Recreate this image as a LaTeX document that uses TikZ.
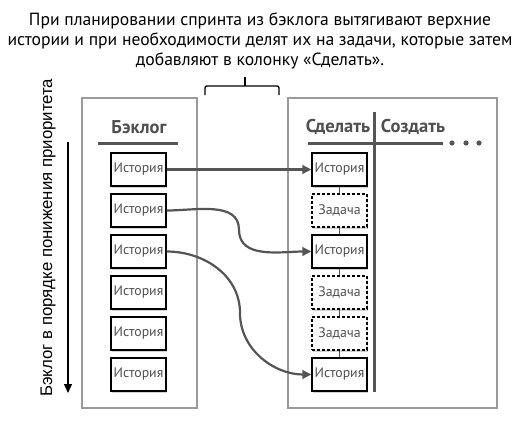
\documentclass[tikz,border=0pt]{standalone}
\usepackage{fontspec}
\setmainfont{PT Sans}
\newfontfamily\arialf{Liberation Sans}
\usetikzlibrary{shadows,arrows.meta}
\definecolor{txtgray}{HTML}{505050}
\definecolor{linegray}{HTML}{555555}
\definecolor{panelgray}{HTML}{9A9A9A}
\tikzset{
  panel/.style={draw=panelgray, line width=1.3pt},
  story/.style={draw=black, line width=1.2pt, fill=white, minimum width=55pt, minimum height=33pt,
    inner sep=0pt, text=txtgray, font=\fontsize{13.8}{15}\selectfont,
    drop shadow={shadow xshift=1pt, shadow yshift=-2pt, opacity=0.35}},
  task/.style={story, dash pattern=on 3pt off 2pt},
  bar/.style={draw=linegray, line width=3pt},
  flow/.style={draw=linegray, line width=2.2pt, -{Triangle[length=9pt,width=8.5pt]}},
  link/.style={draw=linegray, line width=0.8pt},
  heading/.style={text=txtgray, font=\bfseries\fontsize{18.5}{20}\selectfont},
}
\begin{document}
\begin{tikzpicture}[x=1pt,y=-1pt]
\useasboundingbox (0,0) rectangle (518,425);
% title
\node[anchor=north, align=center, font=\fontsize{17.6}{20}\selectfont, inner sep=0pt] (title) at (260,12.5)
  {При планировании спринта из бэклога вытягивают верхние\\
   истории и при необходимости делят их на задачи, которые затем\\
   добавляют в колонку «Сделать».};
% bracket
\coordinate (bl) at (205,95);
\coordinate (br) at (279,95);
\coordinate (bt) at (245,77);
\draw[line width=1.4pt, rounded corners=2pt] (bl) -- (205,86) -- (279,86) -- (br);
\draw[line width=1.4pt] (245,86) -- (bt);
% panels
\draw[panel] (82,98) rectangle (197,408);
\draw[panel] (288,98) rectangle (497,408);
% priority arrow and label
\coordinate (pa) at (68,142);
\coordinate (pb) at (68,393);
\draw[line width=1.4pt, -{Triangle[length=9pt,width=8pt]}] (pa) -- (pb);
\node[rotate=90, anchor=west, font=\arialf\fontsize{16.8}{18}\selectfont, inner sep=0pt] (plabel) at (48,397)
  {Бэклог в порядке понижения приоритета};
% left heading
\node[heading] (hback) at (139,127) {Бэклог};
\draw[bar] (98,143) -- (178,143);
% right headings
\node[heading] (hdo) at (338,127) {Сделать};
\node[heading] (hmake) at (413,127) {Создать};
\draw[bar] (308,143) -- (443,143);
\draw[bar] (374,112) -- (374,392);
\foreach \i/\xx in {1/452,2/466,3/479} \fill[linegray] (\xx,143) circle (2.6pt);
% left stories
\foreach \i in {1,...,6} \node[story] (L\i) at (138.5,{169.5+41*(\i-1)}) {История};
% right column
\node[story] (R1) at (339.5,169.5) {История};
\node[task]  (R2) at (339.5,210.5) {Задача};
\node[story] (R3) at (339.5,251.5) {История};
\node[task]  (R4) at (339.5,292.5) {Задача};
\node[task]  (R5) at (339.5,333.5) {Задача};
\node[story] (R6) at (339.5,374.5) {История};
\foreach \a/\b in {R1/R2,R2/R3,R3/R4,R4/R5,R5/R6} \draw[link] (\a.south) -- (\b.north);
% flows
\coordinate (m2) at (239,230);
\coordinate (m3) at (240,313);
\draw[flow] (L1.east) -- (R1.west);
\draw[flow] (L2.east) to[out=0,in=90] (m2) to[out=-90,in=180] (R3.west);
\draw[flow] (L3.east) to[out=0,in=90] (m3) to[out=-90,in=180] (R6.west);
\end{tikzpicture}
\end{document}
